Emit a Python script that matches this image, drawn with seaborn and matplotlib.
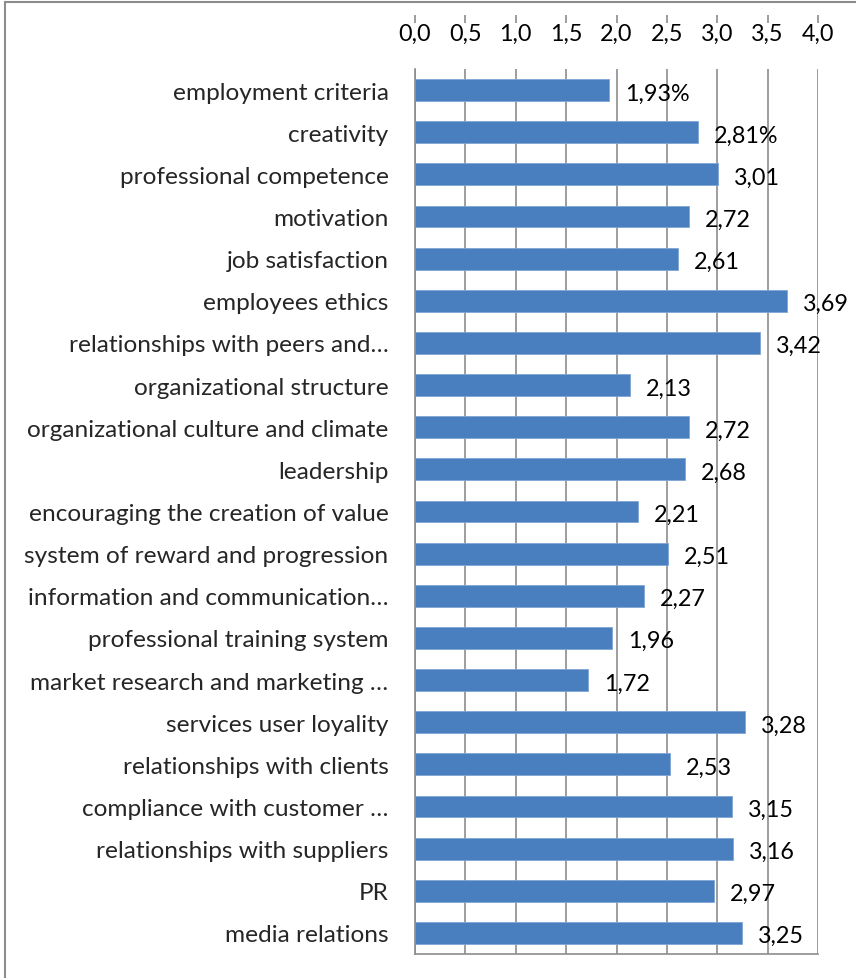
import matplotlib
matplotlib.use("Agg")
import matplotlib.pyplot as plt
import seaborn as sns
import pandas as pd
from matplotlib.patches import Rectangle
from matplotlib.ticker import FuncFormatter, FixedLocator, NullFormatter

categories = [
    "employment criteria", "creativity", "professional competence", "motivation",
    "job satisfaction", "employees ethics", "relationships with peers and\u2026",
    "organizational structure", "organizational culture and climate", "leadership",
    "encouraging the creation of value", "system of reward and progression",
    "information and communication\u2026", "professional training system",
    "market research and marketing \u2026", "services user loyality",
    "relationships with clients", "compliance with customer \u2026",
    "relationships with suppliers", "PR", "media relations",
]
values = [1.93, 2.81, 3.01, 2.72, 2.61, 3.69, 3.42, 2.13, 2.72, 2.68, 2.21,
          2.51, 2.27, 1.96, 1.72, 3.28, 2.53, 3.15, 3.16, 2.97, 3.25]
value_labels = ["1,93%", "2,81%", "3,01", "2,72", "2,61", "3,69", "3,42", "2,13",
                "2,72", "2,68", "2,21", "2,51", "2,27", "1,96", "1,72", "3,28",
                "2,53", "3,15", "3,16", "2,97", "3,25"]
x_ticks = [0.0, 0.5, 1.0, 1.5, 2.0, 2.5, 3.0, 3.5, 4.0]

sns.set_style("white")
plt.rcParams["font.family"] = ["Lato", "DejaVu Sans"]

FS = 16.8
W, H = 856, 979
fig = plt.figure(figsize=(W / 100, H / 100), dpi=100)
ax = fig.add_axes([415 / W, 1 - 955 / H, (818 - 415) / W, (955 - 70) / H])

df = pd.DataFrame({"cat": categories, "val": values})
sns.barplot(data=df, x="val", y="cat", orient="h", color="#4a7fbf",
            saturation=1, width=0.52, ax=ax)
for p in ax.patches:
    p.set_edgecolor("#7fa6d6")
    p.set_linewidth(0.6)

ax.set_xlim(0, 4.0)
ax.set_ylim(len(categories) - 0.5, -0.5)
ax.set_xlabel("")
ax.set_ylabel("")

ax.xaxis.set_major_locator(FixedLocator(x_ticks))
ax.xaxis.set_major_formatter(FuncFormatter(lambda v, p: f"{v:.1f}".replace(".", ",")))
ax.xaxis.tick_top()
ax.tick_params(axis="x", which="major", length=0, pad=18, labelsize=FS, colors="black")
ax.grid(axis="x", color="#8c8c8c", linewidth=1.2)
ax.set_axisbelow(True)

# small tick marks above the x tick labels
sec = ax.secondary_xaxis(1 + 46 / 885)
sec.xaxis.set_major_locator(FixedLocator(x_ticks))
sec.xaxis.set_major_formatter(NullFormatter())
sec.tick_params(axis="x", length=6, width=1.2, color="#8c8c8c", direction="out")
for s in sec.spines.values():
    s.set_visible(False)

ax.tick_params(axis="y", which="major", length=0, pad=19, labelsize=17.6)
ax.set_yticks([i + 0.5 for i in range(-1, len(categories))], minor=True)
ax.tick_params(axis="y", which="minor", length=6, width=1.2, color="#8c8c8c", direction="out")

for s in ["left", "bottom"]:
    ax.spines[s].set_color("#8c8c8c")
    ax.spines[s].set_linewidth(1.2)
ax.spines["top"].set_visible(False)
ax.spines["right"].set_visible(False)

for i, (v, lab) in enumerate(zip(values, value_labels)):
    ax.annotate(lab, xy=(v, i), xytext=(11.5, -2), textcoords="offset points",
                ha="left", va="center", fontsize=FS, color="black")

fig.patches.append(Rectangle((5 / W, -0.1), 1.2, 1 - 3 / H + 0.1, transform=fig.transFigure,
                             fill=False, edgecolor="#8c8c8c", linewidth=1.5))

fig.savefig("out.png", dpi=100)
